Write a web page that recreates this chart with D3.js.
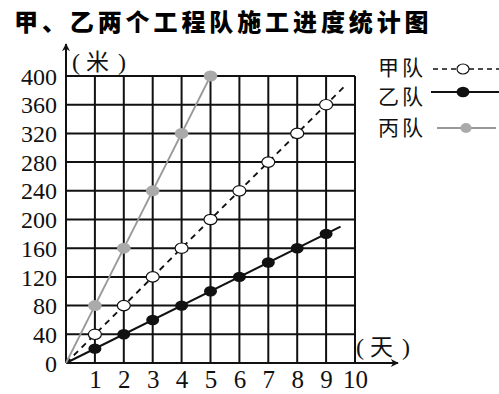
<!DOCTYPE html>
<meta charset="utf-8">
<style>
  body { margin: 0; background: #fff; }
  .tick text { font-family: "Liberation Serif", serif; fill: #111; }
</style>
<body>
<script src="https://d3js.org/d3.v7.min.js"></script>
<script>
// data
var days = [1, 2, 3, 4, 5, 6, 7, 8, 9];
var jiaValues = [40, 80, 120, 160, 200, 240, 280, 320, 360];
var yiValues = [20, 40, 60, 80, 100, 120, 140, 160, 180];
var bingDays = [1, 2, 3, 4, 5];
var bingValues = [80, 160, 240, 320, 400];
// where each line stops (day, metres)
var jiaEnd = [9.6, 384];
var yiEnd = [9.5, 190];
var bingEnd = [5, 400];
var xTicks = [1, 2, 3, 4, 5, 6, 7, 8, 9, 10];
var yTicks = [0, 40, 80, 120, 160, 200, 240, 280, 320, 360, 400];
var teams = ["甲队", "乙队", "丙队"];

var width = 499, height = 394;

var svg = d3.select("body").append("svg")
  .attr("width", width)
  .attr("height", height);

var x = d3.scaleLinear().domain([0, 10]).range([66, 355]);
var y = d3.scaleLinear().domain([0, 400]).range([363, 76]);

// title
svg.append("text")
  .attr("x", 14)
  .attr("y", 31)
  .attr("font-family", "Noto Sans CJK SC")
  .attr("font-weight", 900)
  .attr("font-size", 24)
  .attr("letter-spacing", 3.9)
  .text("甲、乙两个工程队施工进度统计图");

// grid
svg.append("g").selectAll("line")
  .data(xTicks)
  .enter().append("line")
  .attr("x1", function(d) { return x(d); })
  .attr("x2", function(d) { return x(d); })
  .attr("y1", y(0))
  .attr("y2", y(400))
  .attr("stroke", "#111")
  .attr("stroke-width", 2);

svg.append("g").selectAll("line")
  .data(yTicks.slice(1))
  .enter().append("line")
  .attr("x1", x(0))
  .attr("x2", x(10))
  .attr("y1", function(d) { return y(d); })
  .attr("y2", function(d) { return y(d); })
  .attr("stroke", "#111")
  .attr("stroke-width", 2);

// arrow heads
var defs = svg.append("defs");
defs.append("marker")
  .attr("id", "arrow")
  .attr("viewBox", "0 0 10 10")
  .attr("refX", 9).attr("refY", 5)
  .attr("markerWidth", 12).attr("markerHeight", 8)
  .attr("markerUnits", "userSpaceOnUse")
  .attr("orient", "auto")
  .append("path")
  .attr("d", "M0,0 L10,5 L0,10 L3,5 Z")
  .attr("fill", "#111");

// axes
svg.append("line")
  .attr("x1", x(0)).attr("y1", y(0))
  .attr("x2", 398).attr("y2", y(0))
  .attr("stroke", "#111").attr("stroke-width", 2)
  .attr("marker-end", "url(#arrow)");
svg.append("line")
  .attr("x1", x(0)).attr("y1", y(0))
  .attr("x2", x(0)).attr("y2", 44)
  .attr("stroke", "#111").attr("stroke-width", 2)
  .attr("marker-end", "url(#arrow)");

// tick labels via axes (no domain/tick lines)
var yAxis = svg.append("g")
  .attr("transform", "translate(" + (x(0) - 4) + ",0)")
  .call(d3.axisLeft(y).tickValues(yTicks).tickSize(0).tickPadding(5));
yAxis.select(".domain").remove();
yAxis.selectAll("text").attr("font-size", 24).attr("dy", "0.34em");

var xAxis = svg.append("g")
  .attr("transform", "translate(0," + y(0) + ")")
  .call(d3.axisBottom(x).tickValues(xTicks).tickSize(0).tickPadding(7));
xAxis.select(".domain").remove();
xAxis.selectAll("text").attr("font-size", 25).attr("dy", "0.72em");

// unit labels: "( 米 )" and "( 天 )" with wide gaps
function unitLabel(x0, y0, word) {
  var t = svg.append("text")
    .attr("x", x0).attr("y", y0)
    .attr("font-family", "Liberation Serif, Noto Sans CJK SC")
    .attr("font-size", 24)
    .attr("fill", "#111");
  t.append("tspan").text("(");
  t.append("tspan").attr("dx", 6).attr("font-family", "Noto Sans CJK SC").attr("font-size", 23).text(word);
  t.append("tspan").attr("dx", 9).text(")");
}
unitLabel(72, 70, "米");
unitLabel(356, 355, "天");

var line = d3.line()
  .x(function(d) { return x(d[0]); })
  .y(function(d) { return y(d[1]); });

// lines
svg.append("path")
  .attr("d", line([[0, 0], jiaEnd]))
  .attr("fill", "none").attr("stroke", "#111")
  .attr("stroke-width", 1.8).attr("stroke-dasharray", "6,5");
svg.append("path")
  .attr("d", line([[0, 0], yiEnd]))
  .attr("fill", "none").attr("stroke", "#111")
  .attr("stroke-width", 2);
svg.append("path")
  .attr("d", line([[0, 0], bingEnd]))
  .attr("fill", "none").attr("stroke", "#999")
  .attr("stroke-width", 1.8);

// points
svg.append("g").selectAll("ellipse")
  .data(days)
  .enter().append("ellipse")
  .attr("cx", function(d) { return x(d); })
  .attr("cy", function(d, i) { return y(jiaValues[i]); })
  .attr("rx", 6.5).attr("ry", 5.2)
  .attr("fill", "#fff").attr("stroke", "#111").attr("stroke-width", 1.2);

svg.append("g").selectAll("ellipse")
  .data(days)
  .enter().append("ellipse")
  .attr("cx", function(d) { return x(d); })
  .attr("cy", function(d, i) { return y(yiValues[i]); })
  .attr("rx", 6.5).attr("ry", 5.2)
  .attr("fill", "#111");

svg.append("g").selectAll("ellipse")
  .data(bingDays)
  .enter().append("ellipse")
  .attr("cx", function(d) { return x(d); })
  .attr("cy", function(d, i) { return y(bingValues[i]); })
  .attr("rx", 6.8).attr("ry", 5.5)
  .attr("fill", "#aaa");

// legend
var legY = [68, 97, 128];
var leg = svg.append("g");
leg.selectAll("text")
  .data(teams)
  .enter().append("text")
  .attr("x", 378)
  .attr("y", function(d, i) { return legY[i] + 7; })
  .attr("font-family", "Noto Sans CJK SC")
  .attr("font-size", 21)
  .attr("letter-spacing", 3)
  .attr("fill", "#111")
  .text(function(d) { return d; });

leg.append("line")
  .attr("x1", 433).attr("x2", 499).attr("y1", 69).attr("y2", 69)
  .attr("stroke", "#111").attr("stroke-width", 1.6).attr("stroke-dasharray", "5,4");
leg.append("ellipse")
  .attr("cx", 463).attr("cy", 69).attr("rx", 6).attr("ry", 5)
  .attr("fill", "#fff").attr("stroke", "#111").attr("stroke-width", 1.2);

leg.append("line")
  .attr("x1", 431).attr("x2", 499).attr("y1", 92).attr("y2", 92)
  .attr("stroke", "#111").attr("stroke-width", 2);
leg.append("ellipse")
  .attr("cx", 463).attr("cy", 92).attr("rx", 6.5).attr("ry", 5.2)
  .attr("fill", "#111");

leg.append("line")
  .attr("x1", 437).attr("x2", 496).attr("y1", 128).attr("y2", 128)
  .attr("stroke", "#999").attr("stroke-width", 1.8);
leg.append("ellipse")
  .attr("cx", 466).attr("cy", 128).attr("rx", 5.5).attr("ry", 5)
  .attr("fill", "#aaa");
</script>
</body>
